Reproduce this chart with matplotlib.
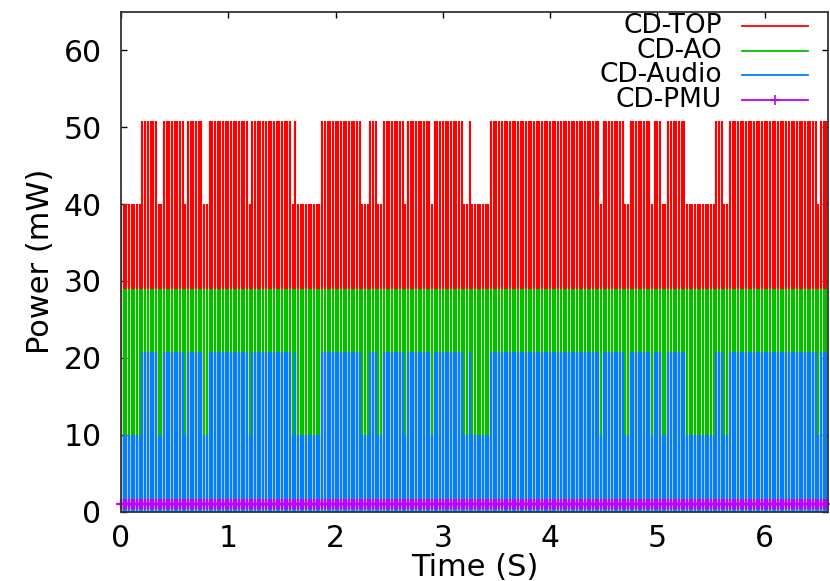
import numpy as np
import matplotlib.pyplot as plt
from matplotlib.lines import Line2D

# sampling period of the power log (seconds)
SAMPLE_PERIOD = 0.025

# activity runs: 0 = audio idle, 1 = audio busy
RUN_STATE = [0, 1, 0, 1, 0, 1, 0, 1, 0, 1, 0, 1, 0, 1, 0, 1, 0, 1, 0, 1,
             0, 1, 0, 1, 0, 1, 0, 1, 0, 1, 0, 1, 0, 1, 0, 1, 0, 1, 0, 1]
RUN_LENGTH = [8, 6, 2, 8, 1, 6, 2, 15, 1, 15, 1, 1, 9, 15, 3, 3, 2, 8, 1, 9,
              1, 11, 2, 1, 7, 41, 1, 8, 2, 8, 1, 3, 2, 7, 11, 3, 2, 33, 1, 3]

# stacked power levels (mW) for idle / busy
TOP_LEVEL = [40.0, 50.8]
AO_LEVEL = 28.9
AUDIO_LEVEL = [10.0, 20.75]
PMU_LEVEL = 1.0

SERIES = ['CD-TOP', 'CD-AO', 'CD-Audio', 'CD-PMU']
COLORS = ['#ff0000', '#00c000', '#0080ff', '#c000ff']

state = np.repeat(RUN_STATE, RUN_LENGTH)
t = np.arange(len(state)) * SAMPLE_PERIOD
top = np.take(TOP_LEVEL, state)
ao = np.full(len(state), AO_LEVEL)
audio = np.take(AUDIO_LEVEL, state)
pmu = np.full(len(state), PMU_LEVEL)

plt.rcParams['font.family'] = ['DejaVu Sans']

fig = plt.figure(figsize=(8.3, 5.81), dpi=100)
ax = fig.add_axes([121 / 830, 1 - 511.5 / 581, 707 / 830, 499.5 / 581])

lw = 1.55
ax.vlines(t, 0, top, color=COLORS[0], lw=lw)
ax.vlines(t, 0, ao, color=COLORS[1], lw=lw)
ax.vlines(t, 0, audio, color=COLORS[2], lw=lw)
ax.plot(t, pmu, color=COLORS[3], lw=1.2, marker='+', ms=7, mew=1.6, clip_on=False)

ax.set_xlim(0, 6.59)
ax.set_ylim(0, 65)
ax.set_xticks(range(0, 7))
ax.set_yticks(range(0, 61, 10))
ax.tick_params(direction='in', top=True, right=True, length=4, width=1,
               labelsize=21.5, pad=9)
ax.tick_params(axis='y', pad=14)
for s in ax.spines.values():
    s.set_linewidth(1.3)
    s.set_color('#333333')

ax.set_xlabel('Time (S)', fontsize=22, labelpad=0)
ax.set_ylabel('Power (mW)', fontsize=22, labelpad=6)

# gnuplot style key: right aligned text, sample line on the right
key_y = [26, 51, 75, 100]
for i, name in enumerate(SERIES):
    y = 1 - key_y[i] / 581
    fig.text(722 / 830, y, name, ha='right', va='center', fontsize=19)
    fig.add_artist(Line2D([742 / 830, 808 / 830], [y, y], color=COLORS[i], lw=1.3,
                          transform=fig.transFigure))
    if i == 3:
        fig.add_artist(Line2D([775 / 830], [y], color=COLORS[i], marker='+',
                              ms=7, mew=1.2, transform=fig.transFigure))

fig.savefig('out.png', dpi=100)
